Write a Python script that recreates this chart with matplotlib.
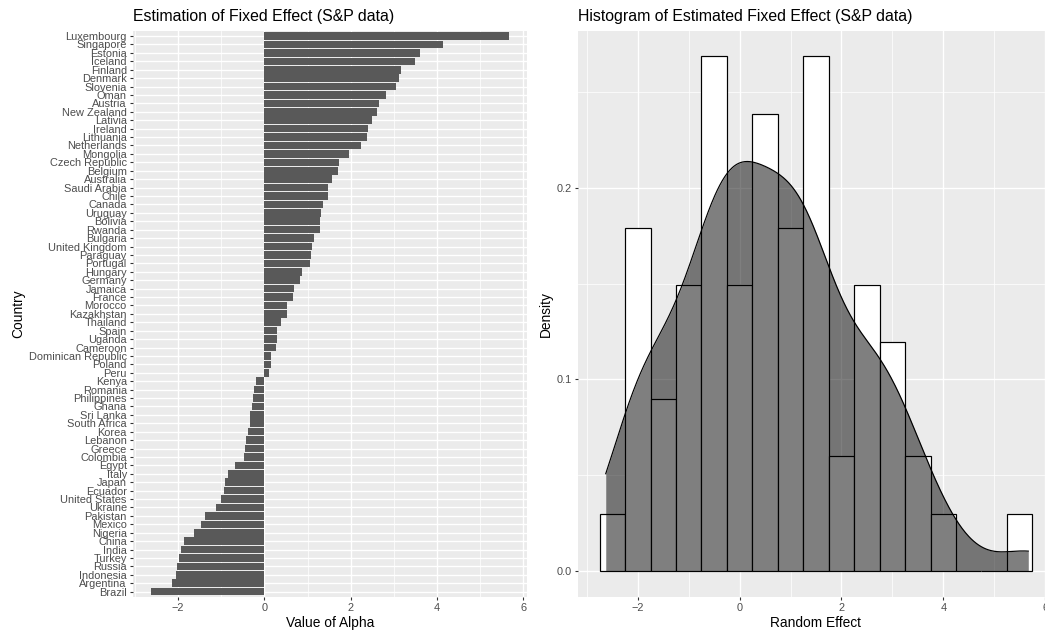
import numpy as np
import matplotlib
matplotlib.use("Agg")
import matplotlib.pyplot as plt
from matplotlib.ticker import FixedLocator

plt.rcParams["font.family"] = ["Liberation Sans", "DejaVu Sans"]

# Estimated country fixed effects, ordered from largest to smallest
countries = [
    "Luxembourg", "Singapore", "Estonia", "Iceland", "Finland", "Denmark",
    "Slovenia", "Oman", "Austria", "New Zealand", "Lativia", "Ireland",
    "Lithuania", "Netherlands", "Mongolia", "Czech Republic", "Belgium",
    "Australia", "Saudi Arabia", "Chile", "Canada", "Uruguay", "Bolivia",
    "Rwanda", "Bulgaria", "United Kingdom", "Paraguay", "Portugal", "Hungary",
    "Germany", "Jamaica", "France", "Morocco", "Kazakhstan", "Thailand",
    "Spain", "Uganda", "Cameroon", "Dominican Republic", "Poland", "Peru",
    "Kenya", "Romania", "Philippines", "Ghana", "Sri Lanka", "South Africa",
    "Korea", "Lebanon", "Greece", "Colombia", "Egypt", "Italy", "Japan",
    "Ecuador", "United States", "Ukraine", "Pakistan", "Mexico", "Nigeria",
    "China", "India", "Turkey", "Russia", "Indonesia", "Argentina", "Brazil",
]
alpha = [
    5.67, 4.13, 3.60, 3.48, 3.16, 3.13,
    3.05, 2.81, 2.66, 2.61, 2.49, 2.40,
    2.38, 2.23, 1.95, 1.74, 1.70,
    1.56, 1.47, 1.47, 1.36, 1.31, 1.28,
    1.28, 1.15, 1.10, 1.08, 1.05, 0.87,
    0.82, 0.69, 0.66, 0.52, 0.52, 0.38,
    0.29, 0.29, 0.26, 0.15, 0.15, 0.10,
    -0.19, -0.24, -0.26, -0.29, -0.33, -0.33,
    -0.38, -0.43, -0.45, -0.47, -0.68, -0.84, -0.92,
    -0.94, -1.00, -1.12, -1.38, -1.47, -1.63,
    -1.87, -1.93, -1.98, -2.02, -2.05, -2.14, -2.63,
]

left_xticks = [-2, 0, 2, 4, 6]
right_xticks = [-2, 0, 2, 4, 6]
right_yticks = [0.0, 0.1, 0.2]
right_yticklabels = ["0.0", "0.1", "0.2"]
binwidth = 0.5

W, H = 1045, 633
DPI = 72
S = 1.25  # text / line scale relative to 72 dpi
PANEL = "#EBEBEB"
TXT = "#4D4D4D"
TICK = "#333333"
GRID_LW = 1.4
MINOR_LW = 0.7
TICK_FS = 8.8 * S
LABEL_FS = 11 * S
TITLE_FS = 15.9


def px_axes(fig, x0, y0, x1, y1):
    return fig.add_axes([x0 / W, (H - y1) / H, (x1 - x0) / W, (y1 - y0) / H])


def style(ax):
    ax.set_facecolor(PANEL)
    for s in ax.spines.values():
        s.set_visible(False)
    ax.set_axisbelow(True)
    ax.tick_params(which="major", length=2.75 * S, width=1.1, color=TICK,
                   labelcolor=TXT, labelsize=TICK_FS, pad=2.2 * S)
    ax.tick_params(which="minor", length=0)


fig = plt.figure(figsize=(W / DPI, H / DPI), dpi=DPI)
fig.patch.set_facecolor("white")

# ---- Left: sorted bar chart of fixed effects ----
ax1 = px_axes(fig, 133, 31, 527, 596.7)
style(ax1)
vals = np.array(alpha)
n = len(vals)
ypos = np.arange(n, 0, -1)  # first country at the top
lo = min(vals.min(), 0)
hi = max(vals.max(), 0)
pad = 0.05 * (hi - lo)
ax1.set_xlim(lo - pad, hi + pad)
ax1.set_ylim(0.4, n + 0.6)
ax1.barh(ypos, vals, height=0.9, color="#595959", edgecolor="none", zorder=2)
ax1.set_yticks(ypos)
ax1.set_yticklabels(countries)
ax1.set_xticks(left_xticks)
ax1.xaxis.set_minor_locator(FixedLocator([-3, -1, 1, 3, 5]))
ax1.grid(which="major", color="white", lw=GRID_LW)
ax1.grid(which="minor", axis="x", color="white", lw=MINOR_LW)
ax1.set_xlabel("Value of Alpha", fontsize=LABEL_FS, color="black", labelpad=2.75 * S)
ax1.set_ylabel("Country", fontsize=LABEL_FS, color="black", labelpad=2.75 * S)
ax1.set_title("Estimation of Fixed Effect (S&P data)", loc="left",
              fontsize=TITLE_FS, color="black", pad=10)

# ---- Right: histogram with kernel density overlay ----
ax2 = px_axes(fig, 578, 30.7, 1054, 596.5)
style(ax2)
edges = np.arange(-2.75, 5.75 + 1e-9, binwidth)
counts, _ = np.histogram(vals, bins=edges)
dens = counts / (n * binwidth)
ax2.bar(edges[:-1], dens, width=binwidth, align="edge", color="white",
        edgecolor="black", linewidth=1.2, zorder=2)

# Gaussian kernel density with Silverman's rule-of-thumb bandwidth
sd = vals.std(ddof=1)
q75, q25 = np.percentile(vals, [75, 25])
bw = 0.9 * min(sd, (q75 - q25) / 1.34) * n ** (-0.2)
grid = np.linspace(vals.min(), vals.max(), 512)
kde = np.exp(-0.5 * ((grid[:, None] - vals[None, :]) / bw) ** 2).sum(axis=1)
kde /= n * bw * np.sqrt(2 * np.pi)
ax2.fill_between(grid, 0, kde, color="black", alpha=0.5, lw=0, zorder=3)
ax2.plot(grid, kde, color="black", lw=1.2, zorder=4)

xr = edges[-1] - edges[0]
ax2.set_xlim(edges[0] - 0.05 * xr, edges[-1] + 0.05 * xr)
ytop = max(dens.max(), kde.max())
ax2.set_ylim(-0.05 * ytop, ytop * 1.05)
ax2.set_xticks(right_xticks)
ax2.xaxis.set_minor_locator(FixedLocator([-3, -1, 1, 3, 5]))
ax2.set_yticks(right_yticks)
ax2.set_yticklabels(right_yticklabels)
ax2.yaxis.set_minor_locator(FixedLocator([0.05, 0.15, 0.25]))
ax2.grid(which="major", color="white", lw=GRID_LW)
ax2.grid(which="minor", color="white", lw=MINOR_LW)
ax2.set_xlabel("Random Effect", fontsize=LABEL_FS, color="black", labelpad=2.75 * S)
ax2.set_ylabel("Density", fontsize=LABEL_FS, color="black", labelpad=2.75 * S)
ax2.set_title("Histogram of Estimated Fixed Effect (S&P data)", loc="left",
              fontsize=TITLE_FS, color="black", pad=10)

fig.savefig("out.png", dpi=DPI, facecolor="white")
